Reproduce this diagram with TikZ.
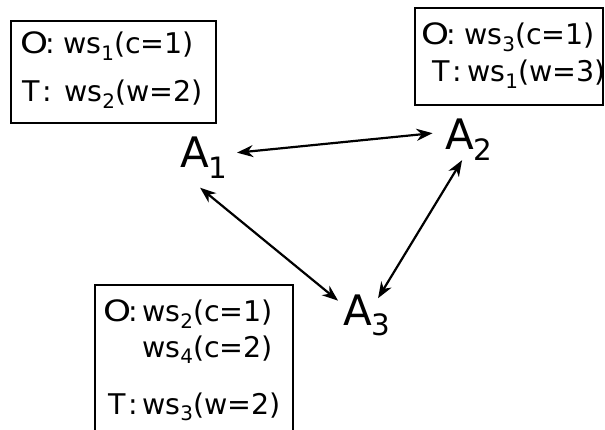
\documentclass[tikz,border=0pt]{standalone}
\usepackage{fontspec}
\setmainfont{DejaVu Sans}
\usetikzlibrary{arrows.meta}
\newcommand\sbs[1]{\raisebox{-0.24em}{\scalebox{0.7}{#1}}}
\newcommand\asub[1]{\rlap{\raisebox{-0.24em}[0pt][0pt]{\scalebox{0.7}{#1}}}}
\newcommand\wideO{\scalebox{1.25}[1.03]{O}\kern-2.5pt}
\begin{document}
\begin{tikzpicture}[x=1pt,y=-1pt,
  box/.style={draw, line width=2pt, rectangle, inner sep=0pt, outer sep=0pt, anchor=north west},
  lab/.style={font=\fontsize{28.5}{34}\selectfont, inner sep=0pt, anchor=base west},
  agent/.style={font=\fontsize{42}{50}\selectfont, inner sep=0pt, anchor=base west},
  link/.style={line width=2.2pt, arrows={Stealth[length=16pt,width=12pt,inset=5pt]-Stealth[length=16pt,width=12pt,inset=5pt]}}]
\useasboundingbox (0,0) rectangle (605,430);
\clip (0,0) rectangle (605,430);
% boxes
\node[box, minimum width=205pt, minimum height=102pt] (b1) at (11,21) {};
\node[box, minimum width=188pt, minimum height=97pt] (b2) at (415,8) {};
\node[box, minimum width=198pt, minimum height=170pt] (b3) at (95,285) {};
% box texts
\node[lab] (o1) at (20,54) {\wideO:};
\node[lab] (o1v) at (63,54) {ws\sbs{1}(c=1)};
\node[lab] (t1) at (22,102) {T\kern2.5pt:};
\node[lab] (t1v) at (64,102) {ws\sbs{2}(w=2)};
\node[lab] (o2) at (421,45) {\wideO:};
\node[lab] (o2v) at (464,45) {ws\sbs{3}(c=1)};
\node[lab] (t2) at (432,82) {T\kern2.5pt:};
\node[lab] (t2v) at (467,82) {ws\sbs{1}(w=3)};
\node[lab] (o3) at (103,322) {\wideO:};
\node[lab] (o3v) at (142,322) {ws\sbs{2}(c=1)};
\node[lab] (o3w) at (142,357) {ws\sbs{4}(c=2)};
\node[lab] (t3) at (108,414) {T\kern2.5pt:};
\node[lab] (t3v) at (142,414) {ws\sbs{3}(w=2)};
% agents
\node[agent] (A1) at (180,168) {A\asub{1}};
\node[agent] (A2) at (445,150) {A\asub{2}};
\node[agent] (A3) at (343,325) {A\asub{3}};
% links
\draw[link] ([shift={(42.5,0)}]A1.center) -- ([shift={(-27,-1.5)}]A2.center);
\draw[link] ([shift={(5.5,35)}]A1.center) -- ([shift={(-19.5,-9)}]A3.center);
\draw[link] ([shift={(2.5,25.5)}]A2.center) -- ([shift={(20.5,-11.5)}]A3.center);
\end{tikzpicture}
\end{document}
